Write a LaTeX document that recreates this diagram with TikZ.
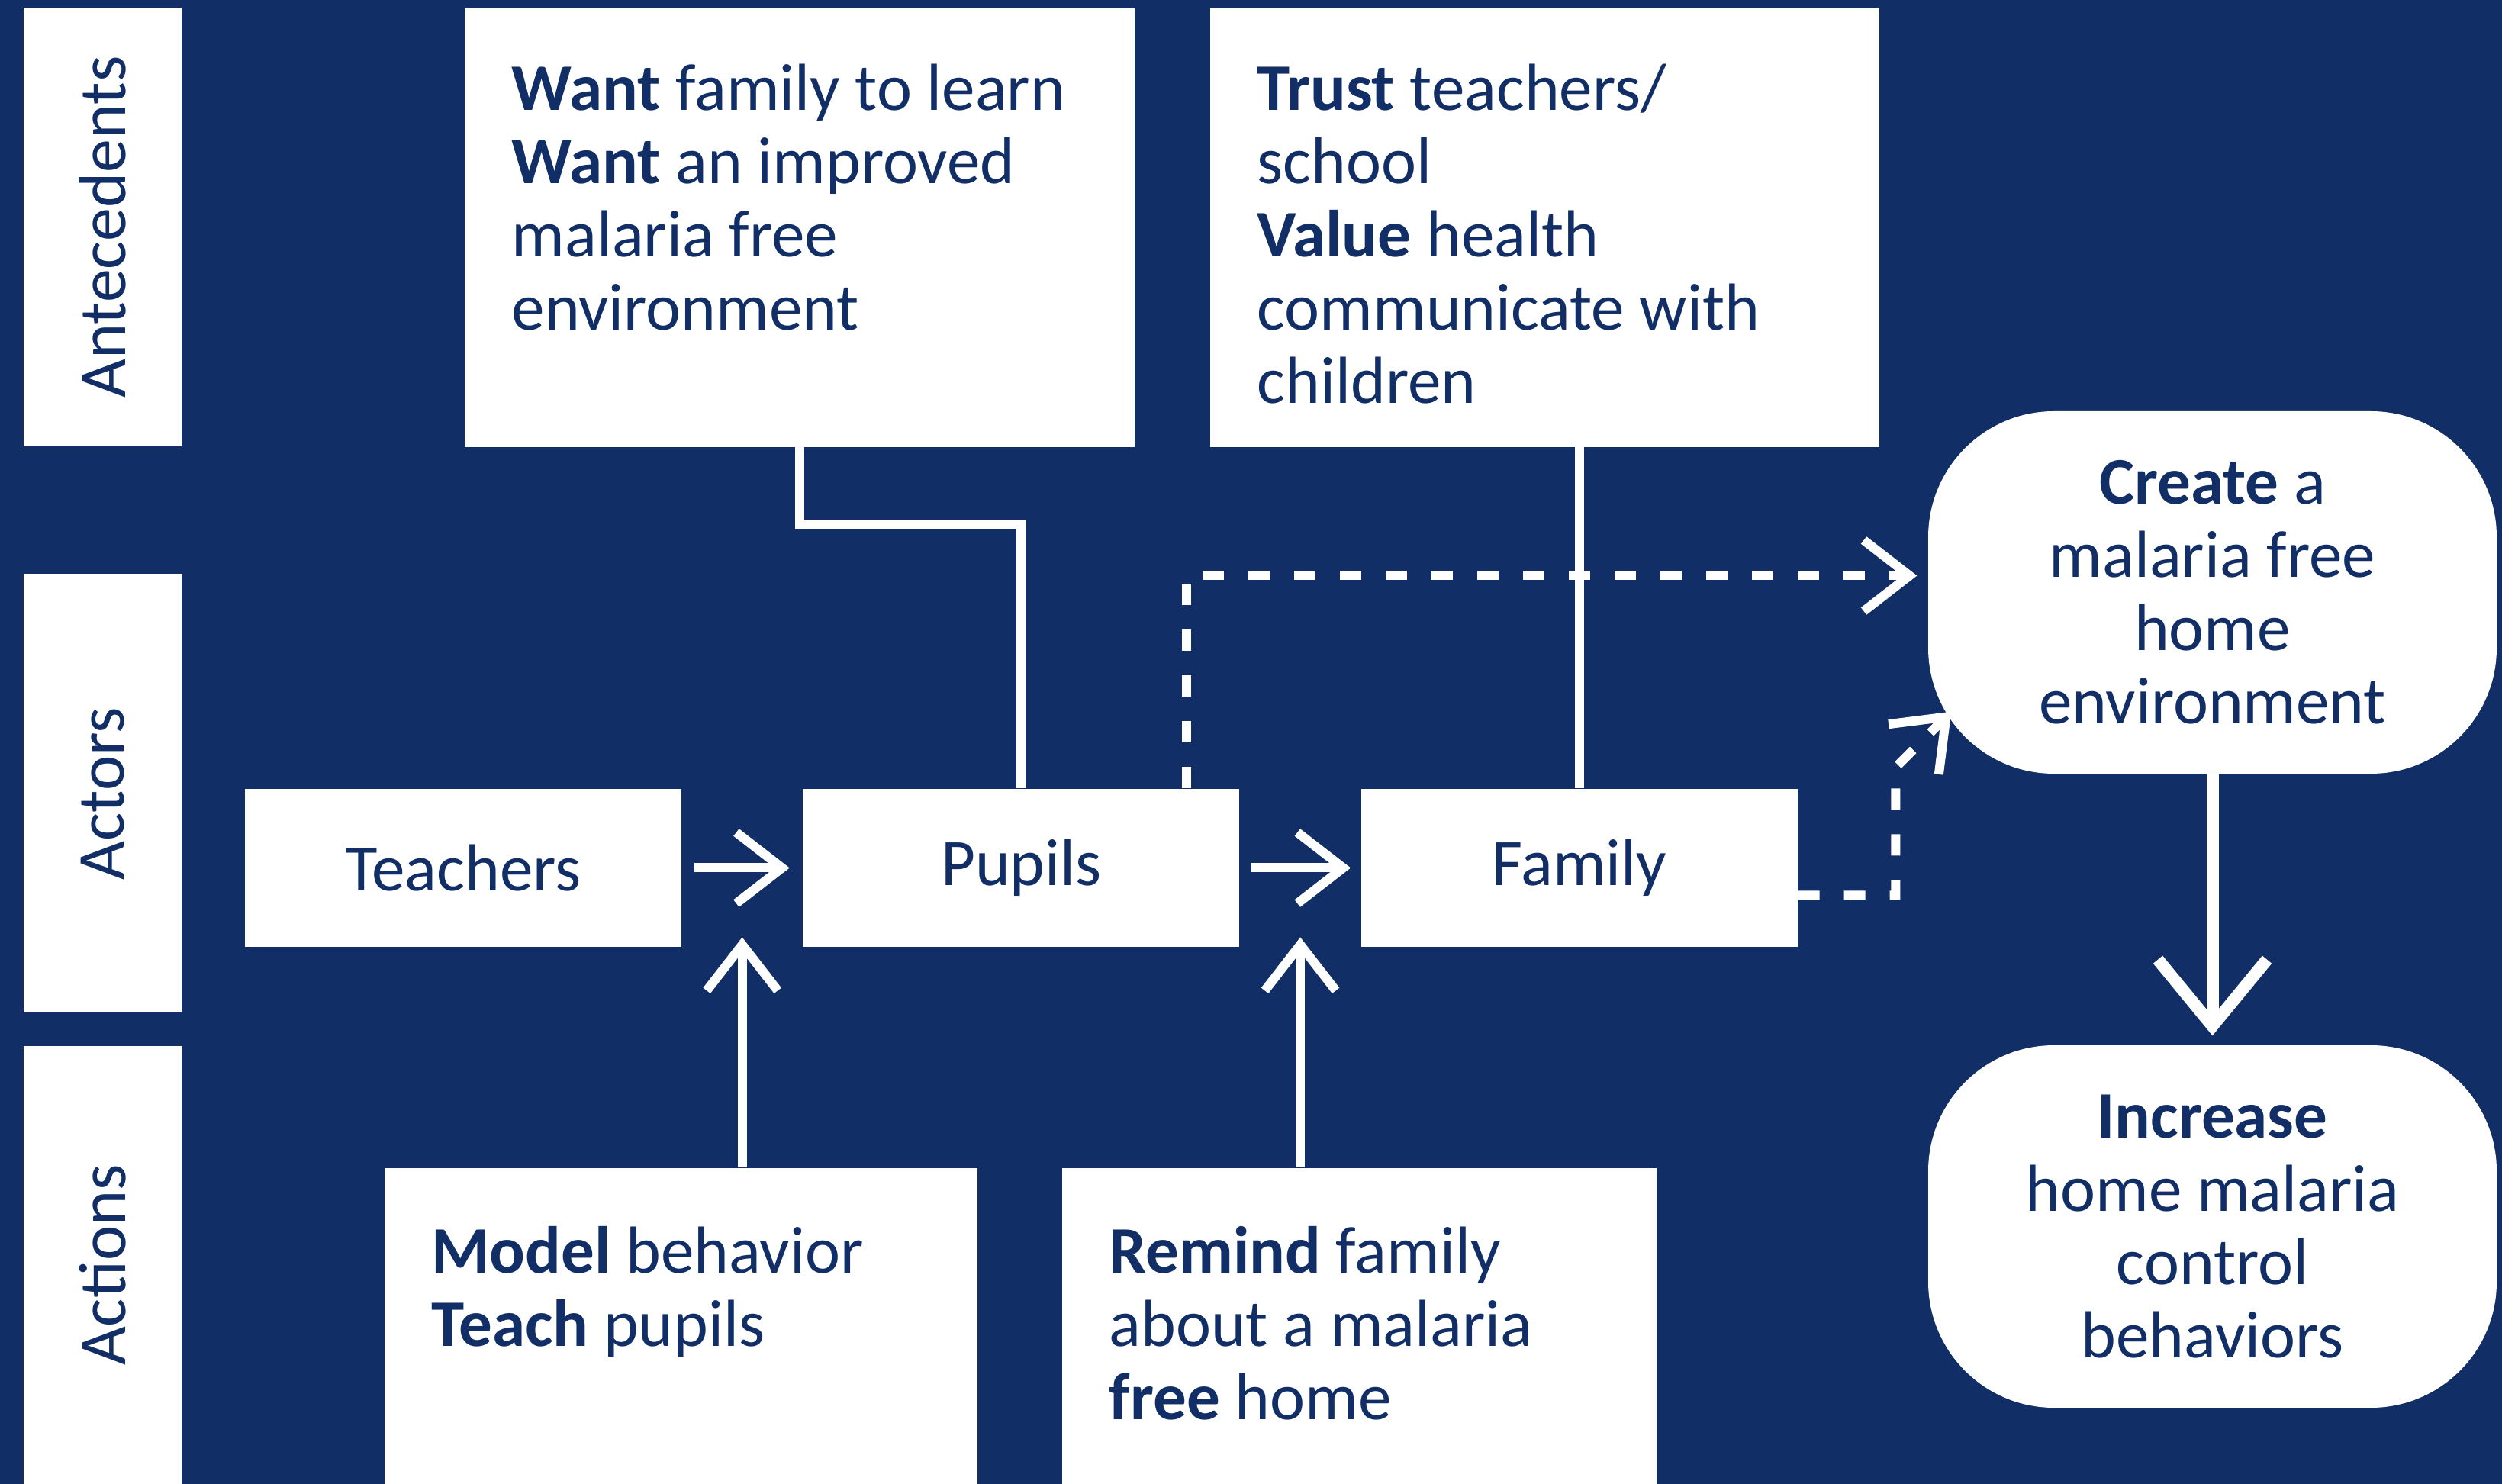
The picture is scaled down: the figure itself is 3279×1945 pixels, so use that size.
\documentclass[tikz,border=0pt]{standalone}
\usepackage{fontspec}
\setmainfont{Carlito}
\usetikzlibrary{positioning,arrows.meta}
\definecolor{navy}{RGB}{18,46,102}
\newcommand{\diagfont}{\fontsize{24.8}{27.3}\selectfont}

\begin{document}
\begin{tikzpicture}[x=0.1mm, y=-0.1mm, node distance=15.8mm,
	lane/.style={fill=white, text=navy, rotate=90, minimum width=57.5mm, minimum height=20.7mm, inner sep=0pt, font=\fontsize{25}{27}\selectfont},
	actor/.style={fill=white, text=navy, minimum width=57.2mm, minimum height=20.7mm, inner sep=0pt, font=\diagfont},
	cause/.style={fill=white, text=navy, anchor=north west, align=flush left, inner xsep=6.2mm, inner ysep=0pt, font=\diagfont},
	goal/.style={fill=white, text=navy, rounded corners=16.5mm, align=center, minimum width=74.5mm, minimum height=47.5mm, inner sep=0pt, font=\diagfont},
	link/.style={draw=white, line width=1.2mm},
	arr/.style={link, -{Straight Barb[length=6mm, width=9.3mm]}},
	hint/.style={arr, dash pattern=on 2.8mm off 3.2mm}]
	\useasboundingbox (0,0) rectangle (3279,1945);
	\fill[navy] (0,0) rectangle (3279,1945);
	% row labels
	\node[lane] (ante) at (134.5,297.5) {Antecedents};
	\node[lane] (actors) at (134.5,1040) {Actors};
	\node[lane] (actions) at (134.5,1658) {Actions};
	% antecedents
	\node[cause, text width=75.4mm, text height=13.4mm, text depth=44.1mm] (want) at (608,10) {\textbf{Want} family to learn\\\textbf{Want} an improved\\malaria free\\environment};
	\node[cause, text width=75.3mm, text height=13.4mm, text depth=44.1mm] (trust) at (1585,10) {\textbf{Trust} teachers/\\school\\\textbf{Value} health\\communicate with\\children};
	% actors
	\node[actor] (teachers) at (607,1137.5) {Teachers};
	\node[actor, right=of teachers] (pupils) {Pupils};
	\node[actor, right=of pupils] (family) {Family};
	% actions
	\node[cause, text width=65.3mm, text height=13.8mm, text depth=27.7mm] (model) at (503,1530) {\textbf{Model} behavior\\\textbf{Teach} pupils};
	\node[cause, text width=65.5mm, text height=13.8mm, text depth=27.7mm] (remind) at (1391,1530) {\textbf{Remind} family\\about a malaria\\\textbf{free} home};
	% outcomes
	\node[goal] (create) at (2899.5,776.5) {\textbf{Create} a\\malaria free\\home\\environment};
	\node[goal] (increase) at (2899.5,1607.5) {\textbf{Increase}\\home malaria\\control\\behaviors};
	\coordinate (touch) at ([shift={(3.1mm,8.2mm)}]create.south west);

	\draw[arr, shorten <=1.6mm, shorten >=1.7mm] (teachers) -- (pupils) coordinate[midway] (tp);
	\draw[arr, shorten <=1.5mm, shorten >=1.3mm] (pupils) -- (family) coordinate[midway] (pf);
	\draw[arr, shorten >=9.1mm] (model.north -| tp) -- (tp);
	\draw[arr, shorten >=9.1mm] (remind.north -| pf) -- (pf);
	\draw[link] (want.south) -- ++(0,101) -| (pupils.north);
	\draw[link] (trust.south -| family.north) -- (family.north);
	\draw[hint, shorten >=1.4mm] ([xshift=-7mm]pupils.north east) |- ([yshift=2.2mm]create.west);
	\draw[hint] ([yshift=-3.6mm]family.east) -| ([shift={(-7.3mm,-7.3mm)}]touch) -- (touch);
	\draw[link, line width=1.6mm, -{Straight Barb[length=8.7mm, width=14.3mm]}, shorten >=1.2mm] (create) -- (increase);
\end{tikzpicture}
\end{document}
